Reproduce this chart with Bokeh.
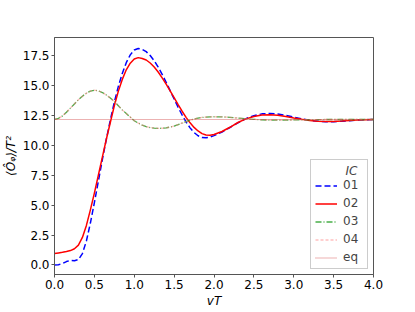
from bokeh.plotting import figure
from bokeh.models import FixedTicker, Legend, LegendItem, Range1d, NumeralTickFormatter
from bokeh.embed import file_html
from bokeh.resources import INLINE

t_vals = [0.00, 0.05, 0.10, 0.15, 0.20, 0.25, 0.30, 0.35, 0.40, 0.45, 0.50, 0.55, 0.60, 0.65, 0.70, 0.75,
          0.80, 0.85, 0.90, 0.95, 1.00, 1.05, 1.10, 1.15, 1.20, 1.25, 1.30, 1.35, 1.40, 1.45, 1.50, 1.55,
          1.60, 1.65, 1.70, 1.75, 1.80, 1.85, 1.90, 1.95, 2.00,
          2.1, 2.2, 2.3, 2.4, 2.5, 2.6, 2.7, 2.8, 2.9, 3.0, 3.1, 3.2, 3.3, 3.4, 3.5, 3.6, 3.7, 3.8, 3.9, 4.0]

ic01 = [0.0, 0.02, 0.12, 0.28, 0.38, 0.35, 0.45, 0.95, 2.0, 3.5, 5.2, 7.0, 8.8, 10.5, 12.1, 13.6,
        14.9, 16.0, 16.9, 17.55, 17.95, 18.08, 18.01, 17.82, 17.49, 17.06, 16.53, 15.92, 15.26, 14.56, 13.86, 13.17,
        12.53, 11.94, 11.45, 11.06, 10.79, 10.64, 10.63, 10.68, 10.8,
        11.1, 11.48, 11.87, 12.22, 12.47, 12.62, 12.66, 12.6, 12.5, 12.35, 12.2, 12.08, 12.0, 11.97, 11.97, 12.0, 12.05, 12.1, 12.13, 12.15]

ic02 = [0.95, 1.0, 1.05, 1.12, 1.2, 1.35, 1.65, 2.3, 3.3, 4.6, 6.0, 7.5, 9.0, 10.5, 11.9, 13.3,
        14.5, 15.5, 16.3, 16.85, 17.2, 17.32, 17.25, 17.12, 16.87, 16.53, 16.12, 15.63, 15.1, 14.54, 13.97, 13.39,
        12.84, 12.33, 11.87, 11.49, 11.19, 10.97, 10.86, 10.84, 10.9,
        11.15, 11.5, 11.9, 12.2, 12.4, 12.52, 12.55, 12.5, 12.4, 12.28, 12.17, 12.07, 12.01, 11.99, 11.99, 12.02, 12.06, 12.1, 12.13, 12.15]

ic03 = [12.15, 12.25, 12.45, 12.75, 13.1, 13.45, 13.8, 14.1, 14.35, 14.52, 14.6, 14.55, 14.4, 14.2, 13.95, 13.65,
        13.3, 12.95, 12.65, 12.35, 12.05, 11.85, 11.68, 11.56, 11.48, 11.43, 11.41, 11.42, 11.45, 11.52, 11.6, 11.72,
        11.85, 11.98, 12.1, 12.2, 12.27, 12.32, 12.35, 12.37, 12.38,
        12.37, 12.33, 12.27, 12.21, 12.16, 12.12, 12.1, 12.09, 12.1, 12.11, 12.12, 12.13, 12.14, 12.15, 12.15, 12.15, 12.15, 12.15, 12.15, 12.15]

ic04 = [12.15, 12.25, 12.45, 12.75, 13.1, 13.45, 13.8, 14.1, 14.35, 14.52, 14.6, 14.55, 14.4, 14.2, 13.95, 13.65,
        13.3, 12.95, 12.65, 12.35, 12.05, 11.85, 11.68, 11.56, 11.48, 11.43, 11.41, 11.42, 11.45, 11.52, 11.6, 11.72,
        11.85, 11.98, 12.1, 12.2, 12.27, 12.32, 12.35, 12.37, 12.38,
        12.37, 12.33, 12.27, 12.21, 12.16, 12.12, 12.1, 12.09, 12.1, 12.11, 12.12, 12.13, 12.14, 12.15, 12.15, 12.15, 12.15, 12.15, 12.15, 12.15]

eq_t = [0.0, 4.0]
eq_val = [12.15, 12.15]

x_ticks = [0.0, 0.5, 1.0, 1.5, 2.0, 2.5, 3.0, 3.5, 4.0]
y_ticks = [0.0, 2.5, 5.0, 7.5, 10.0, 12.5, 15.0, 17.5]

FONT = "DejaVu Sans"

p = figure(width=407, height=310, output_backend="svg", toolbar_location=None,
           x_range=Range1d(0, 4), y_range=Range1d(-0.8, 19.0),
           min_border_left=52, min_border_right=34, min_border_top=37, min_border_bottom=33)

p.xgrid.visible = False
p.ygrid.visible = False
p.outline_line_color = "#555555"
p.outline_line_width = 1

for ax in (p.xaxis[0], p.yaxis[0]):
    ax.axis_line_color = "#555555"
    ax.major_tick_line_color = "#555555"
    ax.minor_tick_line_color = None
    ax.major_tick_in = 0
    ax.major_tick_out = 3
    ax.major_label_text_font = FONT
    ax.major_label_text_font_size = "12px"
    ax.major_label_text_color = "black"
    ax.axis_label_text_font = FONT
    ax.axis_label_text_font_size = "12px"
    ax.axis_label_text_font_style = "italic"
    ax.axis_label_text_color = "black"
    ax.major_label_standoff = 2
    ax.axis_label_standoff = 2
    ax.formatter = NumeralTickFormatter(format="0.0")

p.xaxis.ticker = FixedTicker(ticks=x_ticks)
p.yaxis.ticker = FixedTicker(ticks=y_ticks)
p.xaxis.axis_label = "vT"
p.yaxis.axis_label = "\u27e8\u00d4\u1d69\u27e9/T\u00b2"

r1 = p.line(t_vals, ic01, line_color="#0000ff", line_width=1.5, line_dash="6 3")
r2 = p.line(t_vals, ic02, line_color="#ff0000", line_width=1.5)
r3 = p.line(t_vals, ic03, line_color="#1a9a1a", line_width=1.3, line_dash="6 2 1 2", line_alpha=0.8)
r4 = p.line(t_vals, ic04, line_color="#ff8080", line_width=1.3, line_dash="3 2", line_alpha=0.5)
r5 = p.line(eq_t, eq_val, line_color="#d04040", line_width=1.2, line_dash="1 1", line_alpha=0.8)

legend = Legend(items=[LegendItem(label="01", renderers=[r1]),
                       LegendItem(label="02", renderers=[r2]),
                       LegendItem(label="03", renderers=[r3]),
                       LegendItem(label="04", renderers=[r4]),
                       LegendItem(label="eq", renderers=[r5])],
                location="bottom_right")
legend.title = "\u00a0\u00a0\u00a0\u00a0\u00a0\u00a0\u00a0\u00a0IC"
legend.title_text_font = FONT
legend.title_text_font_style = "italic"
legend.title_text_font_size = "12px"
legend.title_standoff = 0
legend.label_text_font = FONT
legend.label_text_font_size = "12px"
legend.label_height = 13
legend.glyph_height = 13
legend.glyph_width = 22
legend.spacing = 4
legend.padding = 4
legend.margin = 5
legend.label_standoff = 6
legend.border_line_color = "#cccccc"
legend.border_line_alpha = 1.0
legend.background_fill_alpha = 0.8
p.add_layout(legend)

open("out.html", "w").write(file_html(p, INLINE))
